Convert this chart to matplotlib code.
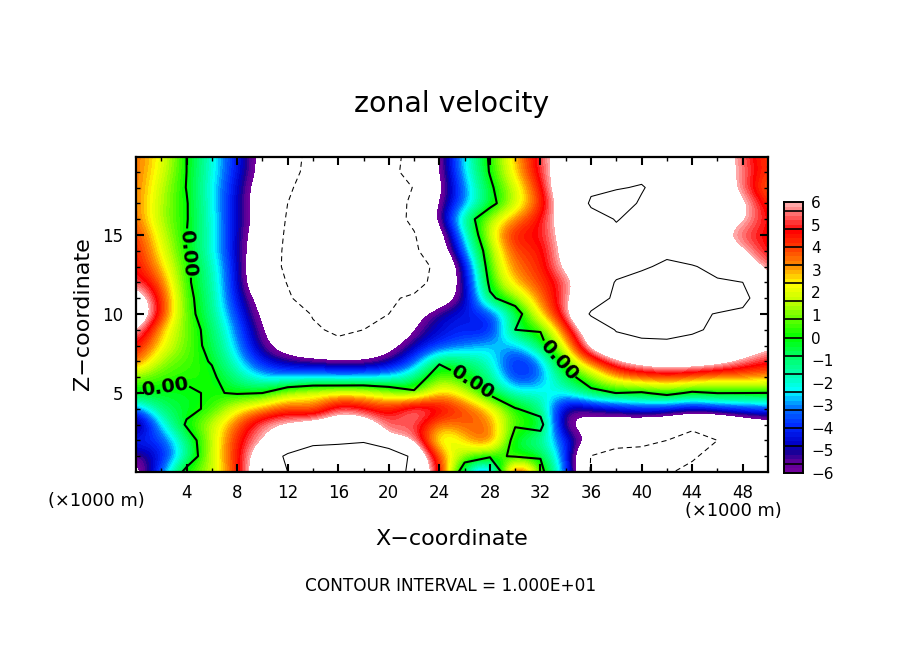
"""Zonal velocity section, contour and shaded field."""

import matplotlib
matplotlib.use("Agg")
import matplotlib.pyplot as plt
import numpy as np
from matplotlib.colors import BoundaryNorm, LinearSegmentedColormap

W, H = 904, 654

# grid, km
x_km = list(range(0, 51, 2))
z_km = list(range(0, 21))

# values, one list per height, x = 0, 2, ... 50
z20 = [3.6, 2.2, 0.0, -2.0, -4.2, -6.6, -9.2, -10.6, -12.0, -12.0, -11.0, -9.0, -6.0, -2.2, 0.2, 2.8, 5.2, 7.5, 9.0, 9.5, 9.4, 8.8, 8.0, 7.3, 5.3, 3.8]
z19 = [3.6, 2.0, 0.0, -2.0, -4.3, -6.6, -9.3, -10.7, -12.0, -12.0, -10.6, -9.2, -6.0, -2.4, 0.1, 2.6, 5.1, 7.5, 9.0, 9.6, 9.6, 8.8, 8.0, 7.3, 5.6, 4.0]
z18 = [3.6, 1.6, -0.05, -2.2, -4.6, -7.2, -9.7, -11.0, -12.5, -12.5, -11.3, -9.9, -6.3, -3.0, -0.3, 1.8, 4.4, 8.2, 9.6, 9.9, 10.1, 9.4, 8.2, 7.5, 5.5, 3.2]
z17 = [3.6, 1.4, 0.1, -2.1, -4.7, -7.3, -10.0, -11.5, -13.0, -13.0, -11.5, -9.4, -5.8, -3.0, -0.6, 1.6, 3.9, 7.5, 10.3, 10.6, 9.85, 9.0, 8.0, 7.3, 6.7, 4.0]
z16 = [3.7, 1.3, 0.1, -2.0, -4.8, -7.0, -10.3, -12.0, -13.5, -13.0, -11.3, -9.4, -5.5, -1.0, 1.5, 3.3, 4.7, 7.2, 9.2, 10.1, 9.4, 8.5, 7.8, 7.0, 6.4, 4.5]
z15 = [4.3, 1.8, 0.0, -1.9, -4.8, -7.5, -10.5, -12.5, -14.0, -13.0, -12.0, -10.2, -7.0, -2.2, 1.9, 4.9, 4.5, 7.0, 9.0, 9.6, 9.0, 8.5, 7.8, 6.6, 5.1, 4.5]
z14 = [4.6, 2.2, 0.1, -2.0, -4.8, -8.0, -10.6, -13.0, -14.5, -13.5, -12.2, -10.6, -7.5, -3.0, 1.1, 4.2, 4.2, 6.8, 8.5, 9.0, 9.0, 9.5, 8.2, 7.3, 6.3, 4.4]
z13 = [4.8, 2.8, 0.3, -1.6, -4.5, -8.5, -10.5, -13.0, -15.0, -14.0, -12.5, -11.2, -9.3, -4.5, 0.9, 3.6, 4.1, 6.6, 8.0, 9.0, 9.7, 10.4, 10.2, 9.2, 7.4, 5.4]
z12 = [5.4, 3.7, 0.3, -1.4, -4.5, -8.5, -10.1, -13.0, -15.0, -14.5, -13.0, -11.5, -8.6, -5.0, 0.4, 2.9, 4.0, 5.2, 7.8, 10.2, 10.8, 11.0, 10.8, 10.3, 10.0, 6.1]
z11 = [7.5, 4.2, 0.5, -1.2, -4.4, -6.8, -9.7, -11.3, -13.0, -13.0, -10.5, -9.4, -7.5, -5.3, -0.3, 1.0, 3.5, 5.6, 8.3, 10.6, 11.3, 11.5, 11.5, 11.3, 10.6, 8.5]
z10 = [8.5, 4.2, 0.6, -1.1, -3.8, -6.4, -8.3, -10.2, -11.8, -10.9, -10.0, -6.7, -4.8, -4.2, -4.0, -1.0, 2.6, 5.4, 10.4, 11.3, 11.5, 11.3, 10.4, 9.9, 9.6, 8.5]
z09 = [6.5, 2.6, 0.9, -0.7, -3.2, -5.9, -8.0, -9.6, -10.5, -10.0, -8.8, -5.8, -4.5, -4.0, -4.8, 0.0, 0.1, 4.0, 7.5, 10.2, 10.8, 10.9, 10.4, 9.5, 8.8, 8.0]
z08 = [4.8, 2.4, 0.8, -0.5, -2.8, -5.5, -7.2, -8.7, -9.3, -8.8, -6.6, -4.8, -3.8, -3.2, -2.4, -3.0, -0.6, 2.2, 7.2, 8.6, 9.3, 9.4, 9.0, 8.4, 7.8, 6.1]
z07 = [4.0, 1.1, 0.6, -0.1, -2.2, -4.3, -5.2, -5.3, -5.7, -5.7, -5.2, -3.6, -0.3, -1.0, -1.8, -4.6, -3.2, 1.0, 3.6, 5.9, 7.0, 7.5, 7.3, 7.0, 5.6, 4.9]
z06 = [0.9, 0.5, 0.2, 0.3, -1.3, -2.6, -2.8, -2.5, -2.8, -2.6, -2.4, -1.4, 1.3, 0.0, -1.0, -4.3, -3.4, -0.6, 0.9, 3.0, 3.6, 3.9, 3.6, 3.0, 3.3, 3.0]
z05 = [0.05, -0.3, -0.2, 0.15, -0.15, -0.02, 1.6, 2.2, 2.5, 2.4, 1.5, 0.3, 3.0, 2.0, -0.5, -2.0, -2.0, -2.3, -0.4, 0.02, -0.2, 0.6, -0.3, 0.05, 0.02, -0.02]
z04 = [-3.5, -0.8, -0.4, 0.3, 2.3, 3.0, 4.1, 3.0, 5.6, 4.8, 4.2, 6.3, 5.2, 4.0, 2.8, 0.1, -0.8, -5.7, -5.2, -4.5, -3.8, -4.0, -4.6, -3.8, -3.7, -3.3]
z03 = [-6.5, -2.3, 0.2, 1.7, 3.6, 5.9, 6.5, 7.0, 7.5, 7.5, 5.0, 5.5, 3.0, 3.8, 3.6, 0.2, 0.8, -6.5, -7.0, -7.5, -7.8, -8.2, -9.6, -9.8, -8.0, -7.5]
z02 = [-3.7, -4.0, -1.0, 1.5, 4.5, 6.0, 7.0, 9.0, 9.5, 9.7, 5.8, 6.3, 1.0, 2.6, 4.5, -1.0, -1.2, -4.0, -6.3, -9.0, -9.2, -10.0, -10.6, -10.0, -7.0, -5.5]
z01 = [-5.7, -4.5, -1.5, 1.8, 4.4, 7.5, 10.6, 12.0, 11.5, 12.0, 14.0, 8.7, 3.5, 1.0, 0.4, -0.2, -0.1, -3.5, -10.1, -11.0, -11.2, -11.5, -10.4, -8.8, -7.5, -6.2]
z00 = [-7.0, -3.3, 0.7, 1.4, 4.2, 8.0, 10.0, 12.0, 12.0, 12.0, 13.0, 8.5, 4.8, -1.5, -5.5, 6.8, 0.5, -2.8, -10.3, -12.0, -11.5, -10.3, -9.2, -8.0, -7.2, -6.3]

# colour scale
cbar_values = [-6.0, -5.6, -5.2, -4.8, -4.0, -3.2, -2.4, -1.6, -0.8, 0.0, 0.8, 1.6, 2.4, 3.2, 4.0, 4.8, 5.6, 6.0]
cbar_colors = ["#70009c", "#5a0098", "#1a0096", "#0000c8", "#0028ff", "#0070ff", "#00ffff", "#00ffa8",
               "#00ff60", "#00ff00", "#60ff00", "#c0ff00", "#ffff00", "#ff9000", "#ff4000", "#ff0000",
               "#ff7070", "#ffa8a8"]
cbar_ticks = [-6, -5, -4, -3, -2, -1, 0, 1, 2, 3, 4, 5, 6]
cbar_seps = [-5.6, -4.8, -4.0, -3.2, -2.4, -1.6, -0.8, 0.0, 0.8, 1.6, 2.4, 3.2, 4.0, 4.8, 5.6]

x_ticks = [4, 8, 12, 16, 20, 24, 28, 32, 36, 40, 44, 48]
z_ticks = [5, 10, 15]
label_spots = [(4.5, 13.9), (2.3, 5.5), (26.8, 5.9), (33.6, 7.2)]


def px_axes(fig, left, top, right, bottom):
    return fig.add_axes([left / W, 1 - bottom / H, (right - left) / W, (bottom - top) / H])


def px_text(fig, x, y, s, **kw):
    kw.setdefault("ha", "center")
    kw.setdefault("va", "center")
    fig.text(x / W, 1 - y / H, s, color="black", **kw)


field = np.array([z00, z01, z02, z03, z04, z05, z06, z07, z08, z09, z10, z11, z12,
                  z13, z14, z15, z16, z17, z18, z19, z20])

levels = np.arange(-6, 6.01, 0.2)
cmap = LinearSegmentedColormap.from_list(
    "zonal", [((v + 6) / 12, c) for v, c in zip(cbar_values, cbar_colors)], N=len(levels) - 1)
cmap.set_over("white")
cmap.set_under("white")
norm = BoundaryNorm(levels, cmap.N)

fig = plt.figure(figsize=(W / 100, H / 100), dpi=100, facecolor="white")

ax = px_axes(fig, 136, 157, 768, 472)
ax.imshow(field, origin="lower", extent=[-1, 51, -0.5, 20.5], aspect="auto",
          cmap=cmap, norm=norm, interpolation="bicubic", interpolation_stage="data")
ax.contour(x_km, z_km, field, levels=[-10], colors="black", linewidths=0.75,
           linestyles=[(0, (5, 3.5))])
ax.contour(x_km, z_km, field, levels=[10], colors="black", linewidths=0.75, linestyles="solid")
cs_zero = ax.contour(x_km, z_km, field, levels=[0], colors="black", linewidths=1.5, linestyles="solid")
zero_labels = ax.clabel(cs_zero, fmt="%.2f", manual=label_spots, inline=True, inline_spacing=2, fontsize=14)
for t in zero_labels:
    t.set_fontweight("bold")
ax.set_xlim(0, 50)
ax.set_ylim(0, 19.93)
ax.set_xticks(x_ticks)
ax.set_xticks(range(2, 50, 4), minor=True)
ax.set_yticks(z_ticks)
ax.set_yticks(range(1, 20), minor=True)
ax.tick_params(which="major", direction="in", length=6, width=1.5, top=True, right=True, labelsize=12, pad=9)
ax.tick_params(which="minor", direction="in", length=3, width=1, top=True, right=True)
for spine in ax.spines.values():
    spine.set_linewidth(1.6)

# colour bar with its separators
cax = px_axes(fig, 784, 202, 803, 473)
cax.pcolormesh([0, 1], levels, (levels[:-1] + 0.1).reshape(-1, 1), cmap=cmap, norm=norm)
cax.hlines(cbar_seps, 0, 1, color="black", linewidth=1.2)
cax.set_xticks([])
cax.set_ylim(-6, 6)
cax.yaxis.tick_right()
cax.set_yticks(cbar_ticks)
cax.set_yticklabels([str(t).replace("-", "\u2212") for t in cbar_ticks])
cax.tick_params(axis="y", length=0, labelsize=11, pad=6)
for spine in cax.spines.values():
    spine.set_linewidth(1.4)

px_text(fig, 452, 104, "zonal velocity", fontsize=20.4)
px_text(fig, 452, 539, "X\u2212coordinate", fontsize=16)
px_text(fig, 83, 314, "Z\u2212coordinate", fontsize=16, rotation=90)
px_text(fig, 96, 501, "(\u00d71000 m)", fontsize=12.8)
px_text(fig, 733, 511, "(\u00d71000 m)", fontsize=12.8)
px_text(fig, 451, 586, "CONTOUR INTERVAL = 1.000E+01", fontsize=12.2)

fig.savefig("out.png", dpi=100, facecolor="white")
